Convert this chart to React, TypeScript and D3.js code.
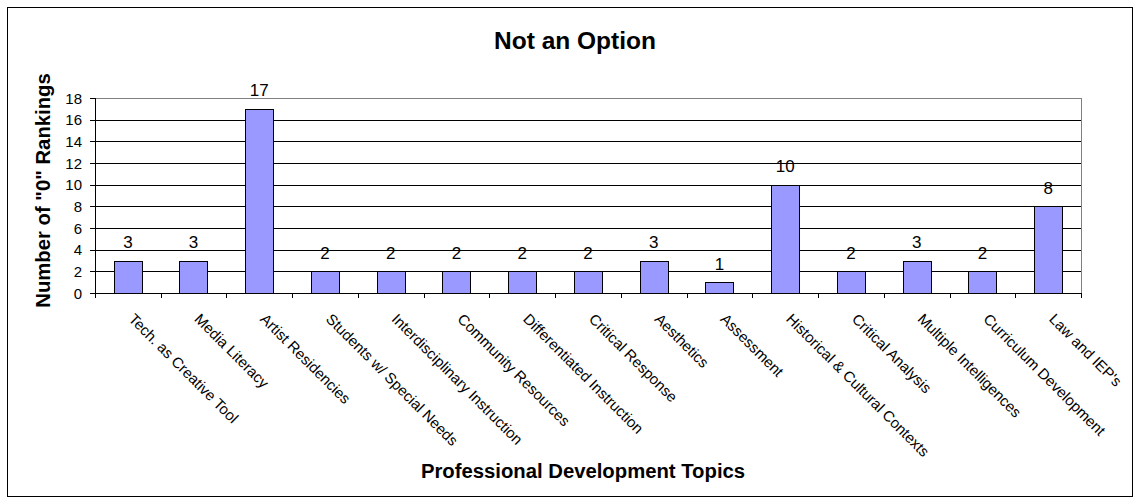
import React from "react";
import * as d3 from "d3";

const categories = [
  "Tech. as Creative Tool",
  "Media Literacy",
  "Artist Residencies",
  "Students w/ Special Needs",
  "Interdisciplinary Instruction",
  "Community Resources",
  "Differentiated Instruction",
  "Critical Response",
  "Aesthetics",
  "Assessment",
  "Historical & Cultural Contexts",
  "Critical Analysis",
  "Multiple Intelligences",
  "Curriculum Development",
  "Law and IEP's",
];
const values = [3, 3, 17, 2, 2, 2, 2, 2, 3, 1, 10, 2, 3, 2, 8];
const yTicks = [0, 2, 4, 6, 8, 10, 12, 14, 16, 18];

const W = 1140;
const H = 504;
const left = 95;
const right = 1081;
const top = 98;
const bottom = 293;
const font = "Liberation Sans, Arial, sans-serif";

export default function App() {
  const x = d3.scaleBand<string>().domain(categories).range([left, right]).paddingInner(0.57).paddingOuter(0.285);
  const step = (right - left) / categories.length;
  const y = d3.scaleLinear().domain([0, 18]).range([bottom, top]);
  return (
    <svg width={W} height={H} style={{ position: "absolute", left: 0, top: 0 }} fontFamily={font}>
      <rect x={0} y={0} width={W} height={H} fill="#fff" />
      <rect x={7.5} y={7.5} width={1125} height={489} fill="#fff" stroke="#000" strokeWidth={1} />
      <text x={575} y={49} textAnchor="middle" fontSize={24.5} fontWeight="bold">Not an Option</text>
      {/* plot border */}
      <rect x={left + 0.5} y={top + 0.5} width={right - left} height={bottom - top} fill="#fff" stroke="#808080" strokeWidth={1} />
      {yTicks.slice(1, -1).map((t) => (
        <line key={"g" + t} x1={left} x2={right} y1={Math.round(y(t)) + 0.5} y2={Math.round(y(t)) + 0.5} stroke="#000" strokeWidth={1} />
      ))}
      {values.map((v, i) => (
        <rect
          key={"b" + i}
          x={Math.round(x(categories[i])!) + 0.5}
          y={Math.round(y(v)) + 0.5}
          width={Math.round(x.bandwidth())}
          height={Math.round(y(0)) - Math.round(y(v))}
          fill="#9999ff"
          stroke="#000"
          strokeWidth={1}
        />
      ))}
      {values.map((v, i) => (
        <text key={"l" + i} x={x(categories[i])! + x.bandwidth() / 2} y={y(v) - 12.5} textAnchor="middle" fontSize={17}>
          {v}
        </text>
      ))}
      {/* axes */}
      <line x1={left + 0.5} x2={left + 0.5} y1={top} y2={bottom + 1} stroke="#000" />
      <line x1={left} x2={right + 1} y1={bottom + 0.5} y2={bottom + 0.5} stroke="#000" />
      {yTicks.map((t) => (
        <g key={"yt" + t}>
          <line x1={left - 5} x2={left} y1={Math.round(y(t)) + 0.5} y2={Math.round(y(t)) + 0.5} stroke="#000" />
          <text x={left - 13} y={y(t) + 5.5} textAnchor="end" fontSize={15}>{t}</text>
        </g>
      ))}
      {d3.range(categories.length + 1).map((i) => (
        <line key={"xt" + i} x1={Math.round(left + i * step) + 0.5} x2={Math.round(left + i * step) + 0.5} y1={bottom} y2={bottom + 5} stroke="#000" />
      ))}
      {categories.map((c, i) => {
        const cx = x(c)! + x.bandwidth() / 2;
        const cy = 320;
        return (
          <text key={"c" + i} x={cx} y={cy} fontSize={15} transform={`rotate(45 ${cx} ${cy})`}>
            {c}
          </text>
        );
      })}
      <text x={583} y={478} textAnchor="middle" fontSize={20.3} fontWeight="bold">Professional Development Topics</text>
      <text transform={`translate(50 190.5) rotate(-90)`} textAnchor="middle" fontSize={20.3} fontWeight="bold">
        Number of "0" Rankings
      </text>
    </svg>
  );
}
